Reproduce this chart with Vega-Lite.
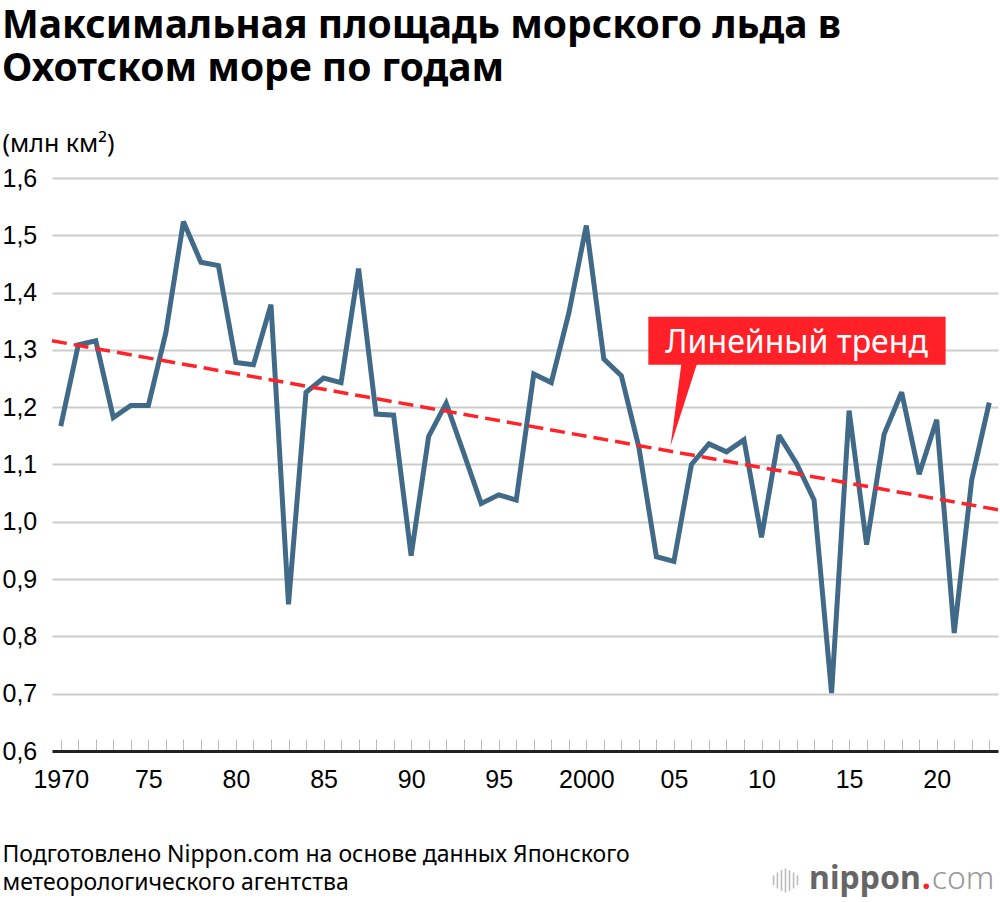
{
  "$schema": "https://vega.github.io/schema/vega-lite/v6.json",
  "width": 946,
  "height": 573,
  "autosize": {"type": "none"},
  "padding": {"left": 52, "top": 178, "right": 2, "bottom": 151},
  "background": "white",
  "title": {
    "text": ["Максимальная площадь морского льда в", "Охотском море по годам"],
    "anchor": "start",
    "frame": "group",
    "font": "Noto Sans",
    "fontSize": 39,
    "fontWeight": "bold",
    "color": "#000",
    "lineHeight": 43,
    "dx": -50,
    "dy": -2,
    "offset": 40
  },
  "config": {
    "view": {"stroke": null},
    "font": "Noto Sans"
  },
  "datasets": {
    "ice": [
      {"year": 1970, "area": 1.167}, {"year": 1971, "area": 1.309}, {"year": 1972, "area": 1.316},
      {"year": 1973, "area": 1.182}, {"year": 1974, "area": 1.203}, {"year": 1975, "area": 1.203},
      {"year": 1976, "area": 1.330}, {"year": 1977, "area": 1.524}, {"year": 1978, "area": 1.453},
      {"year": 1979, "area": 1.447}, {"year": 1980, "area": 1.278}, {"year": 1981, "area": 1.274},
      {"year": 1982, "area": 1.379}, {"year": 1983, "area": 0.856}, {"year": 1984, "area": 1.226},
      {"year": 1985, "area": 1.251}, {"year": 1986, "area": 1.243}, {"year": 1987, "area": 1.442},
      {"year": 1988, "area": 1.188}, {"year": 1989, "area": 1.186}, {"year": 1990, "area": 0.941},
      {"year": 1991, "area": 1.149}, {"year": 1992, "area": 1.207}, {"year": 1993, "area": 1.120},
      {"year": 1994, "area": 1.032}, {"year": 1995, "area": 1.047}, {"year": 1996, "area": 1.038},
      {"year": 1997, "area": 1.258}, {"year": 1998, "area": 1.243}, {"year": 1999, "area": 1.364},
      {"year": 2000, "area": 1.517}, {"year": 2001, "area": 1.284}, {"year": 2002, "area": 1.255},
      {"year": 2003, "area": 1.130}, {"year": 2004, "area": 0.939}, {"year": 2005, "area": 0.931},
      {"year": 2006, "area": 1.100}, {"year": 2007, "area": 1.136}, {"year": 2008, "area": 1.122},
      {"year": 2009, "area": 1.143}, {"year": 2010, "area": 0.973}, {"year": 2011, "area": 1.151},
      {"year": 2012, "area": 1.102}, {"year": 2013, "area": 1.038}, {"year": 2014, "area": 0.701},
      {"year": 2015, "area": 1.194}, {"year": 2016, "area": 0.960}, {"year": 2017, "area": 1.153},
      {"year": 2018, "area": 1.226}, {"year": 2019, "area": 1.083}, {"year": 2020, "area": 1.178},
      {"year": 2021, "area": 0.806}, {"year": 2022, "area": 1.073}, {"year": 2023, "area": 1.208}
    ],
    "trend": [
      {"year": 1969.5, "area": 1.316},
      {"year": 2023.5, "area": 1.021}
    ],
    "callout": [
      {"year": 2003.54, "year2": 2020.51, "area": 1.358, "area2": 1.274, "tipYear": 2005.57, "tipArea": 1.203, "labelYear": 2012.0, "labelArea": 1.2953, "label": "Линейный тренд"}
    ],
    "logo": [
      {"year": 2019.09, "area": 0.36}
    ],
    "wave": [
      {"year": 2010.69, "area": 0.366, "area2": 0.383},
      {"year": 2010.91, "area": 0.360, "area2": 0.388},
      {"year": 2011.14, "area": 0.356, "area2": 0.392},
      {"year": 2011.37, "area": 0.353, "area2": 0.395},
      {"year": 2011.60, "area": 0.356, "area2": 0.392},
      {"year": 2011.83, "area": 0.360, "area2": 0.388},
      {"year": 2012.05, "area": 0.366, "area2": 0.383}
    ]
  },
  "layer": [
    {
      "data": {"name": "ice"},
      "mark": {"type": "line", "color": "#416a88", "strokeWidth": 5, "strokeJoin": "miter", "strokeMiterLimit": 2.5},
      "encoding": {
        "x": {
          "field": "year",
          "type": "quantitative",
          "scale": {"domain": [1969.5, 2023.5], "nice": false, "zero": false},
          "axis": {
            "values": [1970, 1971, 1972, 1973, 1974, 1975, 1976, 1977, 1978, 1979, 1980, 1981, 1982, 1983, 1984, 1985, 1986, 1987, 1988, 1989, 1990, 1991, 1992, 1993, 1994, 1995, 1996, 1997, 1998, 1999, 2000, 2001, 2002, 2003, 2004, 2005, 2006, 2007, 2008, 2009, 2010, 2011, 2012, 2013, 2014, 2015, 2016, 2017, 2018, 2019, 2020, 2021, 2022, 2023],
            "tickCount": 60,
            "labelExpr": "datum.value % 5 != 0 ? '' : (datum.value == 1970 || datum.value == 2000 ? '' + datum.value : substring('' + datum.value, 2))",
            "grid": false,
            "tickSize": -12,
            "tickColor": "#bbbbbb",
            "tickWidth": 1,
            "domainColor": "#222222",
            "domainWidth": 3,
            "labelFont": "Liberation Sans",
            "labelFontSize": 25,
            "labelColor": "#000",
            "labelPadding": 28,
            "labelOverlap": false,
            "labelFlush": false,
            "title": ["Подготовлено Nippon.com на основе данных Японского", "метеорологического агентства"],
            "titleFont": "Noto Sans",
            "titleFontSize": 23,
            "titleFontWeight": "normal",
            "titleColor": "#000",
            "titleAlign": "left",
            "titleBaseline": "alphabetic",
            "titleLineHeight": 28,
            "titleX": -50,
            "titleY": 110
          }
        },
        "y": {
          "field": "area",
          "type": "quantitative",
          "scale": {"domain": [0.6, 1.6], "nice": false, "zero": false},
          "axis": {
            "values": [0.6, 0.7, 0.8, 0.9, 1.0, 1.1, 1.2, 1.3, 1.4, 1.5, 1.6],
            "labelExpr": "replace(format(datum.value, '.1f'), '.', ',')",
            "grid": true,
            "gridColor": "#cccccc",
            "gridWidth": 2,
            "domain": false,
            "ticks": false,
            "tickSize": 0,
            "labelAlign": "left",
            "labelBaseline": "middle",
            "labelPadding": 50,
            "labelFont": "Liberation Sans",
            "labelFontSize": 25,
            "labelColor": "#000",
            "title": "(млн км²)",
            "titleAngle": 0,
            "titleAlign": "left",
            "titleBaseline": "alphabetic",
            "titleFont": "Noto Sans",
            "titleFontSize": 25,
            "titleFontWeight": "normal",
            "titleColor": "#000",
            "titleX": -50,
            "titleY": -27
          }
        }
      }
    },
    {
      "data": {"name": "trend"},
      "mark": {"type": "line", "color": "#ff2228", "strokeWidth": 3.5, "strokeDash": [15, 7]},
      "encoding": {
        "x": {"field": "year", "type": "quantitative"},
        "y": {"field": "area", "type": "quantitative"}
      }
    },
    {
      "data": {"name": "callout"},
      "mark": {"type": "rect", "color": "#ff2028"},
      "encoding": {
        "x": {"field": "year", "type": "quantitative"},
        "x2": {"field": "year2"},
        "y": {"field": "area", "type": "quantitative"},
        "y2": {"field": "area2"}
      }
    },
    {
      "data": {"name": "callout"},
      "mark": {"type": "point", "shape": "M -0.06 -1.05 L 0.33 -1.05 L -0.33 1 Z", "size": 6561, "filled": true, "color": "#ff2028", "opacity": 1, "strokeWidth": 0},
      "encoding": {
        "x": {"field": "tipYear", "type": "quantitative"},
        "y": {"field": "tipArea", "type": "quantitative"}
      }
    },
    {
      "data": {"name": "callout"},
      "mark": {"type": "text", "color": "#ffffff", "font": "Noto Sans", "fontSize": 32, "align": "center", "baseline": "alphabetic"},
      "encoding": {
        "x": {"field": "labelYear", "type": "quantitative"},
        "y": {"field": "labelArea", "type": "quantitative"},
        "text": {"field": "label"}
      }
    },
    {
      "data": {"name": "wave"},
      "mark": {"type": "rule", "color": "#bbbbbb", "strokeWidth": 1.6},
      "encoding": {
        "x": {"field": "year", "type": "quantitative"},
        "y": {"field": "area", "type": "quantitative"},
        "y2": {"field": "area2"}
      }
    },
    {
      "data": {"name": "logo"},
      "mark": {"type": "text", "text": "nippon", "color": "#666666", "font": "Noto Sans", "fontWeight": "bold", "fontSize": 32, "align": "right", "baseline": "alphabetic"},
      "encoding": {
        "x": {"field": "year", "type": "quantitative"},
        "y": {"field": "area", "type": "quantitative"}
      }
    },
    {
      "data": {"name": "logo"},
      "mark": {"type": "text", "text": ".", "color": "#ff2028", "font": "Noto Sans", "fontWeight": "bold", "fontSize": 32, "align": "left", "baseline": "alphabetic", "dx": 1},
      "encoding": {
        "x": {"field": "year", "type": "quantitative"},
        "y": {"field": "area", "type": "quantitative"}
      }
    },
    {
      "data": {"name": "logo"},
      "mark": {"type": "text", "text": "com", "color": "#999999", "font": "Noto Sans", "fontWeight": 300, "fontSize": 32, "align": "left", "baseline": "alphabetic", "dx": 11},
      "encoding": {
        "x": {"field": "year", "type": "quantitative"},
        "y": {"field": "area", "type": "quantitative"}
      }
    }
  ]
}
